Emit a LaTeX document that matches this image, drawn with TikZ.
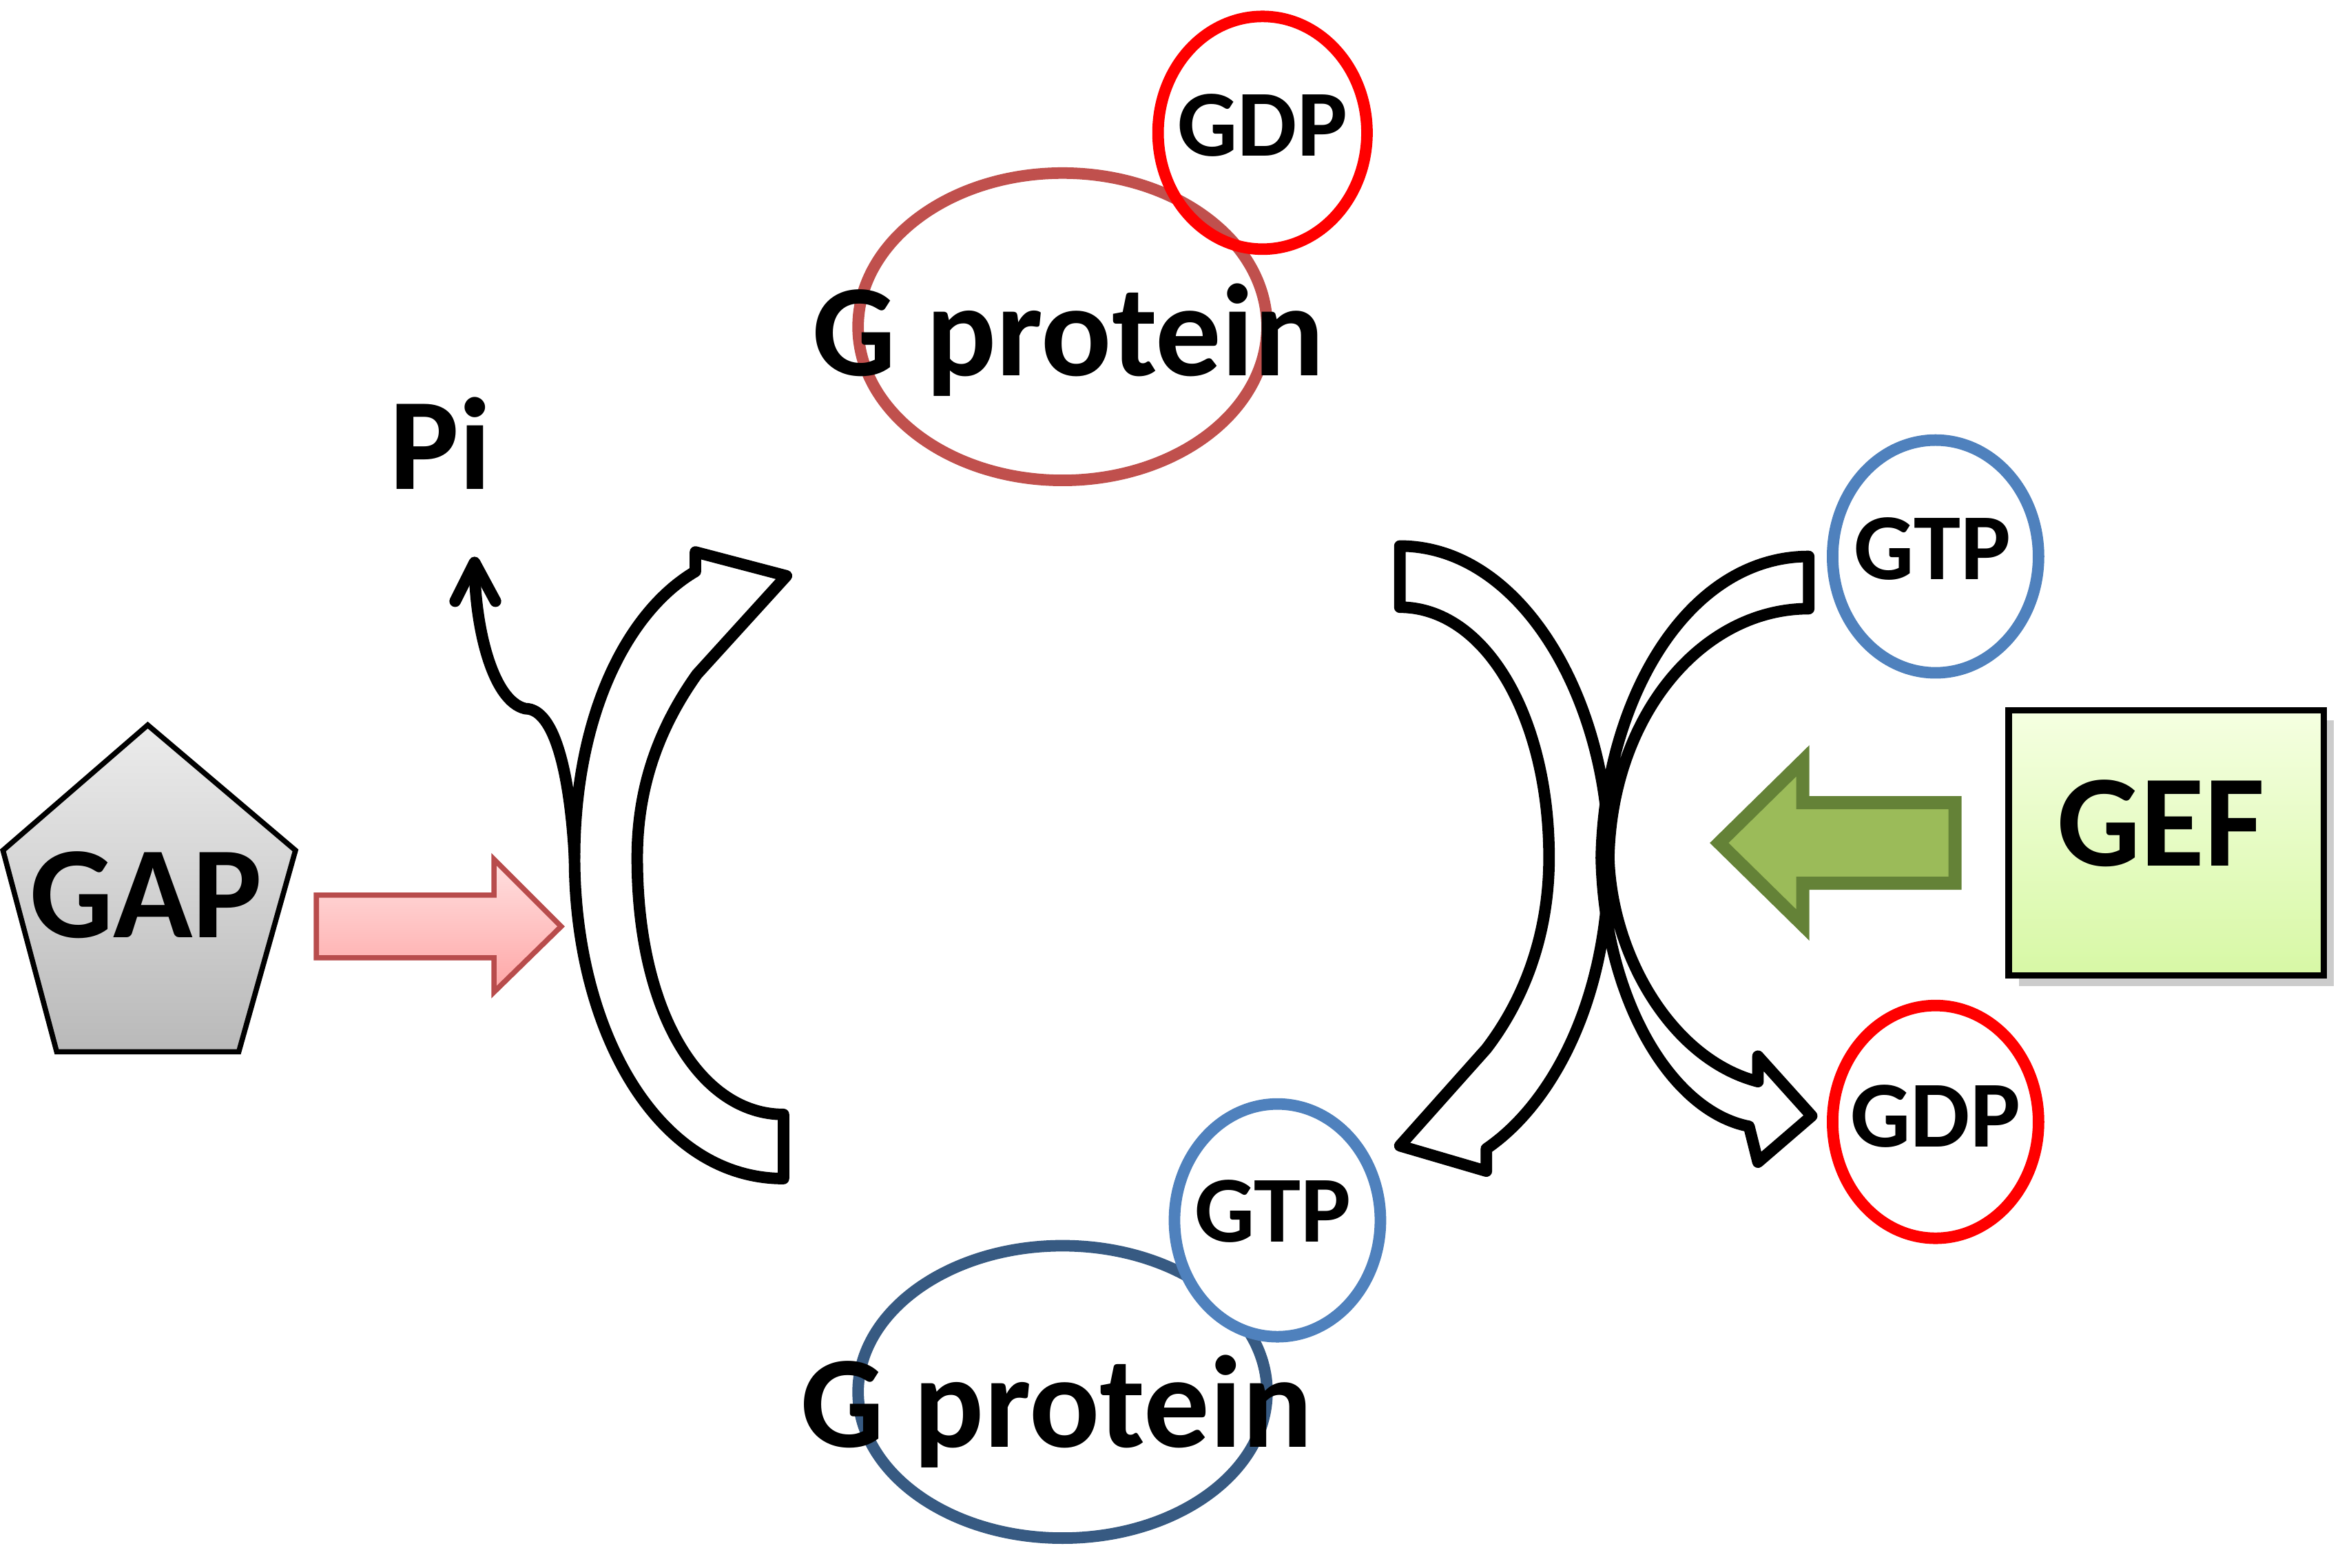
\documentclass[tikz,border=0pt]{standalone}
\usepackage{fontspec}
\setmainfont{Carlito}
\usetikzlibrary{shadows}
\definecolor{gpred}{RGB}{192,80,77}
\definecolor{gpblue}{RGB}{55,90,130}
\definecolor{ctblue}{RGB}{79,129,189}
\definecolor{ctred}{RGB}{255,0,0}
\begin{document}
\begin{tikzpicture}[x=0.01cm,y=-0.01cm,
  blk/.style={draw=black,line width=2.2pt,line join=round,fill=white},
  gp/.style={ellipse,line width=2.2pt,minimum width=274\pgflinewidth,font=\bfseries\fontsize{24}{28}\selectfont},
  sm/.style={font=\bfseries\fontsize{18}{20}\selectfont},
  big/.style={font=\bfseries\fontsize{25}{28}\selectfont}]
\useasboundingbox (0,0) rectangle (1568,1051);
% top G protein and GDP
\draw[gpred,line width=2.2pt] (712,219) ellipse [x radius=137,y radius=103];
\draw[ctred,line width=2.2pt] (846,89) ellipse [x radius=70,y radius=78];
\node[big] (gp1) at (716,228) {G protein};
\node[sm] (gdp1) at (846,84) {GDP};
% bottom
\draw[gpblue,line width=2.2pt] (712,933) ellipse [x radius=137,y radius=98];
\draw[ctblue,line width=2.2pt,fill=white] (856,818) ellipse [x radius=69,y radius=78];
\node[big] (gp2) at (708,946) {G protein};
\node[sm] (gtp2) at (853,812) {GTP};
% right circles
\draw[ctblue,line width=2.2pt] (1297,373) ellipse [x radius=69,y radius=78];
\node[sm] (gtp1) at (1295,368) {GTP};
\draw[ctred,line width=2.2pt] (1297,752) ellipse [x radius=69,y radius=78];
\node[sm] (gdp2) at (1297,748) {GDP};
% GAP
\draw[black,line width=1pt,top color=gray!15,bottom color=gray!55]
  (99,486) -- (198,570) -- (160,705) -- (38,705) -- (2,570) -- cycle;
\node[big] (gap) at (98,600) {GAP};
% pink arrow
\draw[red!60!black!70,line width=1pt,top color=red!12,bottom color=red!35]
  (212,600) -- (331,600) -- (331,576) -- (376,621) -- (331,665) -- (331,642) -- (212,642) -- cycle;
% left curved arrow
\draw[blk] (525,790) .. controls (440,790) and (385,690) .. (385,575)
  .. controls (385,480) and (420,410) .. (466,383) -- (466,370) -- (527,386) -- (467,452)
  .. controls (440,490) and (427,530) .. (427,575)
  .. controls (427,680) and (470,747) .. (525,747) -- cycle;
% Pi
\node[big] (pi) at (295,297) {Pi};
\draw[black,line width=2.2pt,line cap=round,line join=round]
  (385,575) .. controls (382,520) and (372,475) .. (352,475)
  .. controls (330,470) and (318,420) .. (318,378);
\draw[black,line width=2.2pt,line cap=round,line join=round] (305,403) -- (318,377) -- (332,403);
% right big arrow
\draw[blk] (938,366) .. controls (1020,366) and (1078,470) .. (1078,575)
  .. controls (1078,670) and (1040,740) .. (996,770) -- (996,785) -- (938,768) -- (996,703)
  .. controls (1025,665) and (1038,620) .. (1038,575)
  .. controls (1038,480) and (995,407) .. (938,407) -- cycle;
% small exchange arrow
\draw[black,line width=2.2pt,line join=round]
  (1212,373) .. controls (1130,373) and (1075,470) .. (1073,575)
  .. controls (1075,670) and (1120,745) .. (1172,755) -- (1178,779) -- (1214,748) -- (1178,708) -- (1178,725)
  .. controls (1120,710) and (1080,640) .. (1078,575)
  .. controls (1080,480) and (1140,408) .. (1212,408) -- cycle;
% green arrow
\draw[draw={rgb,255:red,100;green,130;blue,55},line width=2.5pt,fill={rgb,255:red,155;green,187;blue,89}]
  (1310,538) -- (1208,538) -- (1208,510) -- (1152,565) -- (1208,620) -- (1208,592) -- (1310,592) -- cycle;
% GEF
\draw[black,line width=1.2pt,top color={rgb,255:red,245;green,255;blue,225},bottom color={rgb,255:red,215;green,248;blue,165},drop shadow={opacity=0.4,shadow xshift=2pt,shadow yshift=-2pt}]
  (1346,476) rectangle (1557,654);
\node[big] (gef) at (1448,552) {GEF};
\end{tikzpicture}
\end{document}
